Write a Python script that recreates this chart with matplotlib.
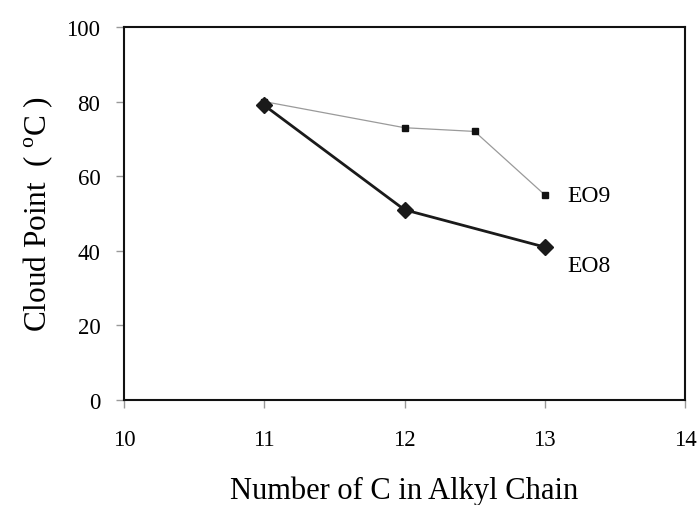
import matplotlib
matplotlib.use("Agg")
import matplotlib.pyplot as plt

plt.rcParams['font.family'] = ['Liberation Serif', 'DejaVu Serif']
plt.rcParams['mathtext.fontset'] = 'custom'
plt.rcParams['mathtext.rm'] = 'Liberation Serif'

# Data
eo9_x = [11, 12, 12.5, 13]
eo9_y = [80, 73, 72, 55]
eo8_x = [11, 12, 13]
eo8_y = [79, 51, 41]
x_ticks = [10, 11, 12, 13, 14]
y_ticks = [0, 20, 40, 60, 80, 100]

fig = plt.figure(figsize=(6.98, 5.06), dpi=100)
ax = fig.add_axes([124/698, 1-401/506, (685-124)/698, (401-28)/506])

ax.plot(eo9_x, eo9_y, color='#9a9a9a', lw=0.9, zorder=2)
ax.plot(eo9_x, eo9_y, ls='none', marker='s', ms=5, color='#111111', zorder=3)
ax.plot(eo8_x, eo8_y, color='#1a1a1a', lw=2.0, marker='D', ms=8, zorder=4)

ax.text(13.16, 54.7, 'EO9', fontsize=17, va='center', ha='left')
ax.text(13.16, 36.0, 'EO8', fontsize=17, va='center', ha='left')

ax.set_xlim(10, 14)
ax.set_ylim(0, 100)
ax.set_xticks(x_ticks)
ax.set_yticks(y_ticks)
ax.tick_params(axis='both', direction='out', length=6, width=1, color='#999999',
               labelsize=16.5)
ax.tick_params(axis='y', pad=11)
ax.tick_params(axis='x', pad=15)
for s in ax.spines.values():
    s.set_linewidth(1.5)
    s.set_color('#111111')

ax.set_xlabel('Number of C in Alkyl Chain', fontsize=22, labelpad=18)
ax.set_ylabel('Cloud Point  ( $^\\mathrm{o}$C )', fontsize=22.5, labelpad=8)

fig.savefig('out.png', dpi=100)
